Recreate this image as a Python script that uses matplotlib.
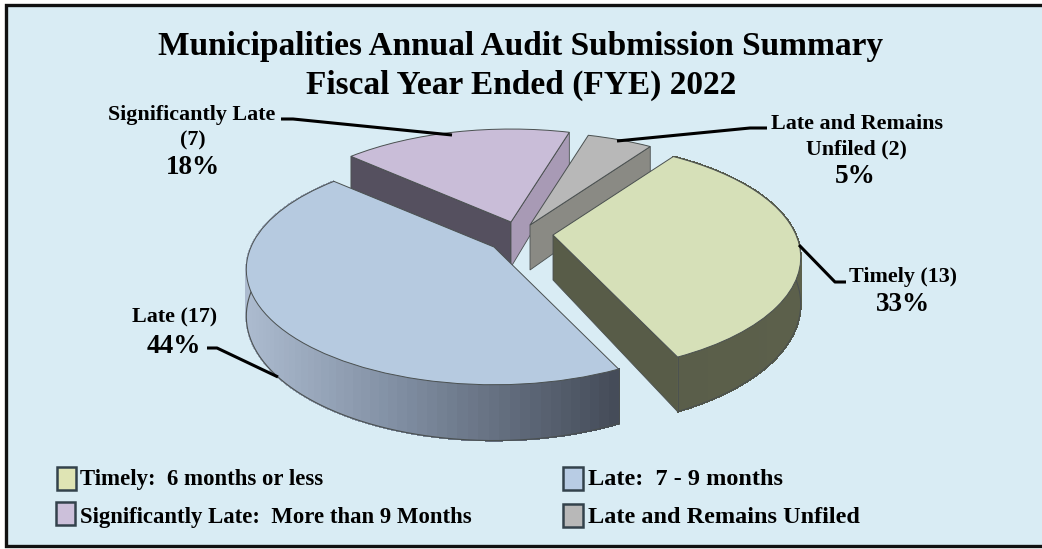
import numpy as np
import matplotlib
matplotlib.use('Agg')
import matplotlib.pyplot as plt
from matplotlib.patches import Rectangle
from matplotlib.transforms import Transform

categories = ['Timely', 'Late', 'Significantly Late', 'Late and Remains Unfiled']
counts = [13, 17, 7, 2]
legend_labels = ['Timely:  6 months or less', 'Late:  7 - 9 months',
                 'Significantly Late:  More than 9 Months', 'Late and Remains Unfiled']
title_lines = ['Municipalities Annual Audit Submission Summary', 'Fiscal Year Ended (FYE) 2022']

top_colors = ['#d6e0b8', '#b6cae0', '#c9bdd8', '#b8b8b8']
swatch_colors = ['#dfe4b4', '#b8cce4', '#ccc0da', '#b8b8b8']
# cut face colours as (larger angle, smaller angle), None where the face points away
wall_colors = [(None, '#585c48'), (None, None),
               ('#55505f', '#a89ab5'), (None, '#8a8a84')]
arc_ramps = [[(552, '#585c48'), (800, '#5c604b')],
             [(245, '#adbcd0'), (400, '#808ea2'), (618, '#444b58')],
             None, None]
centers = [(553, 235), (494, 247), (511, 222), (530, 225)]
draw_order = [2, 3, 0, 1]

RX, RY, PERSP = 243, 111, 0.194
DEPTH = 45
OUTLINE = '#4a5050'


class Tilt(Transform):
    # unit circle on the table top -> pixel position, far side smaller
    input_dims = 2
    output_dims = 2

    def __init__(self, cx, cy):
        super().__init__()
        self.cx = cx
        self.cy = cy

    def transform_non_affine(self, xy):
        xy = np.asarray(xy, dtype=float)
        w = 1 + PERSP * xy[:, 1]
        return np.column_stack([self.cx + RX * xy[:, 0] / w, self.cy - RY * xy[:, 1] / w])


def rim(tilt, th1, th2, n=80):
    th = np.radians(np.linspace(th1, th2, n))
    uv = np.column_stack([np.cos(th), np.sin(th)])
    pts = tilt.transform_non_affine(uv)
    drop = DEPTH / (1 + PERSP * uv[:, 1])
    return pts, pts + np.column_stack([np.zeros(n), drop])


def ramp_color(ramp, x):
    xs = [r[0] for r in ramp]
    rgb = np.array([matplotlib.colors.to_rgb(r[1]) for r in ramp])
    return [np.interp(x, xs, rgb[:, k]) for k in range(3)]


fig = plt.figure(figsize=(10.42, 5.49), dpi=100, facecolor='white')
ax = fig.add_axes([0, 0, 1, 1])

wedges, _ = ax.pie(counts, startangle=55, counterclock=False,
                   colors=top_colors, wedgeprops={'edgecolor': OUTLINE, 'linewidth': 0.7})
ax.set_aspect('auto')
ax.set_xlim(0, 1042)
ax.set_ylim(549, 0)
ax.axis('off')

ax.add_patch(Rectangle((6, 5), 1060, 541, facecolor='#d9ecf4', edgecolor='#111111',
                       linewidth=2.4, zorder=0))

for rank, ii in enumerate(draw_order):
    w = wedges[ii]
    tilt = Tilt(*centers[ii])
    base = 10 + rank * 10
    apex = tilt.transform_non_affine(np.array([[0.0, 0.0]]))[0]

    # the cut faces, then the curved outer wall, then the top
    for th, col in zip((w.theta2, w.theta1), wall_colors[ii]):
        if col is None:
            continue
        top, bot = rim(tilt, th, th, 2)
        ax.fill([apex[0], top[0, 0], bot[0, 0], apex[0]],
                [apex[1], top[0, 1], bot[0, 1], apex[1] + DEPTH],
                facecolor=col, edgecolor=OUTLINE, linewidth=0.6, zorder=base)

    if arc_ramps[ii] is not None:
        top, bot = rim(tilt, w.theta1, w.theta2)
        for kk in range(len(top) - 1):
            col = ramp_color(arc_ramps[ii], 0.5 * (top[kk, 0] + top[kk + 1, 0]))
            ax.fill([top[kk, 0], top[kk + 1, 0], bot[kk + 1, 0], bot[kk, 0]],
                    [top[kk, 1], top[kk + 1, 1], bot[kk + 1, 1], bot[kk, 1]],
                    facecolor=col, edgecolor=col, linewidth=0.8, antialiased=False, zorder=base + 1)
        ax.plot(bot[:, 0], bot[:, 1], color=OUTLINE, lw=0.8, zorder=base + 2)
        for end in (0, -1):
            ax.plot([top[end, 0], bot[end, 0]], [top[end, 1], bot[end, 1]],
                    color=OUTLINE, lw=0.6, zorder=base + 2)

    w.set_transform(tilt + ax.transData)
    w.set_zorder(base + 3)

serif = 'Liberation Serif'
for yy, line in zip((55, 94), title_lines):
    ax.text(521, yy, line, family=serif, weight='bold', size=24, ha='center', va='baseline', zorder=90)

pct = [f'{round(100 * c / sum(counts))}%' for c in counts]
small = {'family': serif, 'weight': 'bold', 'size': 15.8, 'ha': 'center', 'va': 'baseline', 'zorder': 90}
big = dict(small, size=19.5)

ax.text(192, 120, categories[2], **small)
ax.text(193, 145, f'({counts[2]})', **small)
ax.text(193, 174, pct[2], **big)
ax.text(857, 129, 'Late and Remains', **small)
ax.text(856, 154, f'Unfiled ({counts[3]})', **small)
ax.text(855, 183, pct[3], **big)
ax.text(903, 282, f'{categories[0]} ({counts[0]})', **small)
ax.text(903, 311, pct[0], **big)
ax.text(175, 322, f'{categories[1]} ({counts[1]})', **small)
ax.text(174, 353, pct[1], **big)

# leader lines
leaders = [([281, 293, 452], [119, 119, 135]),
           ([767, 750, 617], [128, 128, 141]),
           ([799, 835, 846], [245, 282, 282]),
           ([207, 217, 278], [348, 348, 377])]
for lx, ly in leaders:
    ax.plot(lx, ly, color='black', lw=2.2, solid_capstyle='butt', zorder=80)

# legend
slots = [(57, 467, 19, 80, 485, 16.4), (563, 467, 20, 588, 485, 17.5),
         (56, 502, 19, 80, 523, 16.4), (563, 504, 20, 588, 523, 17.5)]
for (sx, sy, sw, tx, ty, fs), label, col in zip(slots, legend_labels, swatch_colors):
    ax.add_patch(Rectangle((sx, sy), sw, 23, facecolor=col, edgecolor='#33424c', lw=1.8, zorder=85))
    ax.text(tx, ty, label, family=serif, weight='bold', size=fs, va='baseline', zorder=90)

fig.savefig('out.png', dpi=100)
